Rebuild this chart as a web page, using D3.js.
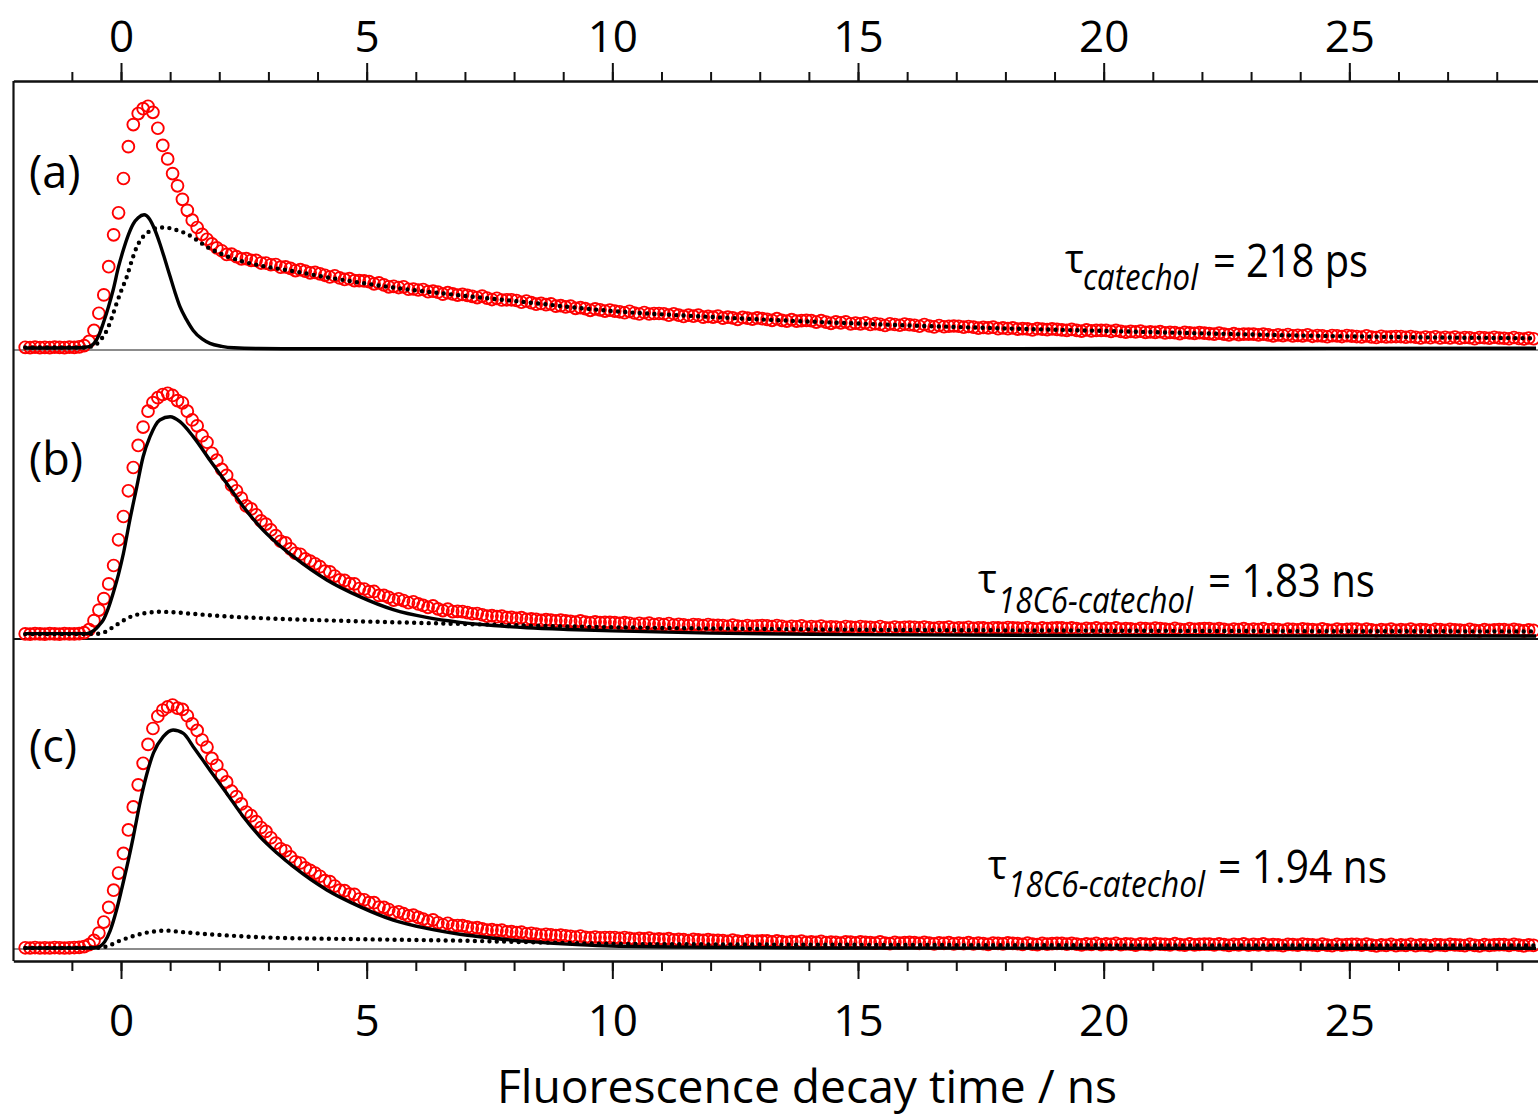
<!DOCTYPE html>
<html>
<head>
<meta charset="utf-8">
<script src="https://cdn.jsdelivr.net/npm/d3@7"></script>
<style>
  body { margin: 0; background: #fff; }
  svg { display: block; }
  text { font-family: "Open Sans", sans-serif; fill: #000; white-space: pre; }
</style>
</head>
<body>
<svg id="chart" width="1538" height="1116"></svg>
<script>
// TCSPC channel grid (ns)
const channelStart = -1.95;
const channelWidth = 0.1;

// Measured decays, normalised counts (per mille of peak)
const decayA = [11,10,12,10,11,10,12,11,10,12,11,13,
18,35,80,150,225,340,470,560,
700,830,920,965,985,995,970,905,835,780,
720,670,615,570,530,500,472,452,433,417,
405,390,391,381,372,373,366,366,355,355,
348,349,338,339,333,324,328,322,315,317,
311,305,298,303,294,288,291,283,283,282,
279,270,274,266,258,260,255,258,248,249,
245,247,238,240,236,228,234,229,224,227,
223,219,214,220,212,206,211,204,205,205,
202,195,200,193,187,190,185,188,179,181,
176,179,170,173,169,162,168,164,159,163,
159,156,152,158,151,147,153,147,149,149,
148,142,148,142,137,142,138,142,134,137,
134,138,130,134,131,125,133,130,126,131,
128,125,121,128,121,118,124,118,120,121,
120,114,120,114,109,115,111,115,107,110,
107,111,104,108,105,100,107,104,101,106,
103,101,97,104,98,94,100,95,97,98,
97,93,96,93,89,92,90,93,87,90,
87,90,85,87,86,82,87,85,83,86,
84,82,80,84,80,77,82,78,80,80,
80,76,80,76,73,76,74,77,72,74,
72,75,70,72,71,67,72,70,68,71,
69,67,65,69,65,62,67,63,65,65,
65,62,65,62,58,62,59,63,58,60,
58,62,56,59,58,54,59,58,55,59,
57,55,53,58,53,51,56,53,54,55,
55,52,55,52,49,53,50,54,49,52,
49,53,48,51,50,46,51,50,48,52,
49,48,46,51,47,45,49,46];

const decayB = [21,20,22,21,20,22,21,20,22,21,21,22,
26,38,75,118,165,225,300,405,
500,605,700,790,865,930,965,985,998,1003,
994,973,964,930,894,870,830,803,758,730,
692,668,628,605,575,543,531,507,482,469,
445,422,399,392,368,350,346,327,318,307,
295,277,274,257,241,239,226,225,206,204,
193,194,178,178,170,159,164,157,148,152,
143,137,129,135,123,116,122,112,113,112,
108,103,104,99,93,95,91,93,87,88,
84,87,80,82,80,76,79,77,74,77,
74,72,69,74,69,66,70,67,68,68,
67,64,67,64,60,64,61,65,59,62,59,63,57,60,58,55,59,58,55,59,56,
56,55,52,57,53,51,55,52,54,55,54,51,55,52,48,52,50,54,48,51,49,53,48,50,49,46,51,49,47,51,
49,48,46,51,46,44,49,46,48,49,48,45,49,46,43,47,45,49,43,46,44,48,43,46,45,42,46,45,43,47,
45,44,42,47,42,40,45,42,44,45,45,42,45,42,39,43,41,45,40,43,
41,45,40,42,41,38,43,42,40,44,42,40,38,43,39,37,42,39,41,42,42,39,42,39,36,40,38,42,37,40,
38,42,37,40,38,35,40,39,37,41,39,38,36,41,37,35,40,37,39,40,
40,36,40,37,34,38,36,40,35,38,36,40,35,38,37,34,39,38,35,39,37,36,34,39,35,33,38,35,37,38,
38,35,39,36,33,37,35];

const decayC = [5,4,6,4,5,4,6,5,4,5,6,7,
10,18,35,65,110,170,240,310,
390,486,580,670,758,835,900,950,975,988,
996,983,978,952,919,892,853,824,778,750,
710,682,644,622,592,559,544,520,496,480,
454,432,409,401,376,356,351,331,321,310,
297,279,275,257,240,238,224,223,204,201,
189,189,171,170,161,148,152,144,135,138,
129,122,113,119,107,99,105,95,96,95,
90,85,87,82,77,79,75,77,70,71,
67,69,62,64,61,57,60,58,55,57,
54,52,49,53,48,45,49,46,47,47,
47,43,47,43,40,43,41,44,39,41,39,42,37,39,38,34,39,37,35,38,35,
35,34,31,36,32,29,34,31,32,33,33,29,33,30,27,30,28,32,27,29,27,31,26,28,27,24,29,28,25,29,
27,26,24,29,24,22,27,24,26,27,26,23,27,24,21,25,23,26,21,24,22,26,21,24,22,19,24,23,21,25,
23,22,19,24,20,18,23,20,22,23,23,20,23,20,17,21,19,23,18,21,
19,23,18,21,20,16,21,20,18,22,20,19,17,22,18,16,21,17,19,20,20,17,21,18,15,19,17,21,16,19,
17,21,16,18,17,14,19,18,16,20,18,17,15,20,16,14,19,16,18,19,19,16,20,16,13,17,15,19,14,17,
15,19,14,17,16,13,18,17,15,19,17,16,14,19,15,13,18,15,17,18,18,15,19,16,13,17,15];

// Fitted components [time ns, counts per mille]: solid = fast component, dotted = slow component
const fastA = [[-1.95,8],[-0.85,9],[-0.65,14],[-0.55,27],[-0.45,60],[-0.36,110],[-0.25,180],[-0.16,245],[-0.05,340],[0.05,410],[0.15,470],[0.25,515],[0.35,540],[0.47,552],[0.58,535],[0.68,495],[0.79,435],[0.9,365],[1.0,300],[1.1,235],[1.2,177],[1.33,125],[1.47,80],[1.65,45],[1.81,27],[2.05,15],[2.3,9],[2.8,6],[4,5],[10,5],[20,6],[28.8,7]];
const slowA = [[-1.95,10],[-0.75,10],[-0.55,18],[-0.4,45],[-0.29,80],[-0.19,130],[-0.09,190],[0.02,250],[0.12,300],[0.22,365],[0.32,420],[0.42,455],[0.52,476],[0.63,490],[0.73,498],[0.85,500],[1.0,497],[1.15,488],[1.34,474],[1.55,448],[1.74,422],[1.95,400],[2.15,383],[2.5,360],[2.83,345],[3.5,322],[4.19,297],[5.5,256],[6.9,223],[8.3,194],[9.3,172],[10,159],[12,135],[15,108],[18,88],[20,78],[22,68],[24,59],[26,53],[28.8,48]];
const fastB = [[-1.95,22],[-0.7,22],[-0.55,35],[-0.45,55],[-0.36,78],[-0.26,125],[-0.16,187],[-0.05,265],[0.05,350],[0.18,486],[0.32,620],[0.45,744],[0.59,826],[0.79,894],[1.0,907],[1.2,887],[1.47,826],[1.81,730],[2.15,636],[2.49,540],[2.83,458],[3.17,392],[3.51,336],[4.19,241],[4.86,173],[5.54,120],[6.22,88],[6.9,68],[7.58,55],[8.26,46],[9.28,38],[10,33],[12,24],[15,18],[20,14],[28.8,12]];
const slowB = [[-1.95,20],[-0.5,21],[-0.38,25],[-0.29,32],[-0.19,45],[-0.09,58],[0.02,72],[0.12,84],[0.3,98],[0.5,106],[0.79,111],[1.0,110],[1.5,102],[2.15,92],[3,84],[4.19,76],[6.22,65],[8.94,52],[10,48],[12,43],[15,38],[20,34],[28.8,31]];
const fastC = [[-1.95,4],[-0.6,4],[-0.5,6],[-0.43,10],[-0.33,30],[-0.22,75],[-0.09,160],[0.02,250],[0.12,336],[0.25,458],[0.39,600],[0.52,710],[0.66,800],[0.86,867],[1.06,894],[1.27,880],[1.47,826],[1.81,730],[2.15,636],[2.49,540],[2.83,458],[3.17,393],[3.51,336],[4.19,241],[4.86,173],[5.54,118],[6.22,84],[6.9,60],[7.58,44],[8.26,31],[9.28,18],[10,12],[12,7],[15,4],[28.8,3]];
const slowC = [[-1.95,4],[-0.45,5],[-0.3,10],[-0.15,22],[0.0,36],[0.12,44],[0.3,56],[0.45,64],[0.7,72],[0.93,75],[1.2,70],[1.61,63],[2.2,55],[2.83,48],[4.86,40],[6.9,34],[8.94,25],[10,21],[12,19],[15,17],[20,15],[28.8,14]];

// Axis ticks and texts
const majorTicks = [0, 5, 10, 15, 20, 25];
const minorTicks = d3.range(-1, 29);
const panelLabels = ["(a)", "(b)", "(c)"];
const lifetimeSpecies = ["catechol", "18C6-catechol", "18C6-catechol"];
const lifetimeValues = ["= 218 ps", "= 1.83 ns", "= 1.94 ns"];
const axisTitle = "Fluorescence decay time / ns";

const svg = d3.select("#chart");
const x = d3.scaleLinear().domain([-2.19, 28.85]).range([13.4, 1538.5]);

const frameTop = 81, frameBottom = 961, frameLeft = 13.5, frameRight = 1538;

const panels = [
  { decay: decayA, fast: fastA, slow: slowA, base: 350, baseDark: false, labelY: 188,
    tau: { x: 1065, y: 277, subX: 1083, subW: 115, subY: 290, mainX: 1213, mainW: 155 } },
  { decay: decayB, fast: fastB, slow: slowB, base: 639, baseDark: true, labelY: 475,
    tau: { x: 978, y: 597, subX: 998, subW: 195, subY: 613, mainX: 1208, mainW: 167 } },
  { decay: decayC, fast: fastC, slow: slowC, base: 949, baseDark: false, labelY: 762,
    tau: { x: 988, y: 883, subX: 1008, subW: 197, subY: 897, mainX: 1218, mainW: 169 } }
];

// panel baselines
panels.forEach(p => {
  svg.append("line")
    .attr("x1", frameLeft).attr("x2", frameRight)
    .attr("y1", p.base).attr("y2", p.base)
    .attr("stroke", p.baseDark ? "#111" : "#666")
    .attr("stroke-width", p.baseDark ? 2.2 : 1.6);
});

panels.forEach((p, k) => {
  const y = d3.scaleLinear().domain([0, 1000]).range([p.base, p.base - 245]);
  const g = svg.append("g");
  const points = p.decay.map((v, i) => [channelStart + i * channelWidth, v]);

  g.append("g").selectAll("circle").data(points).join("circle")
    .attr("cx", d => x(d[0])).attr("cy", d => y(d[1])).attr("r", 5.9)
    .attr("fill", "none").attr("stroke", "#ff0000").attr("stroke-width", 1.9);

  const line = d3.line().x(d => x(d[0])).y(d => y(d[1])).curve(d3.curveMonotoneX);

  g.append("path").attr("d", line(p.fast))
    .attr("fill", "none").attr("stroke", "#000").attr("stroke-width", 3.4)
    .attr("stroke-linejoin", "round");

  g.append("path").attr("d", line(p.slow))
    .attr("fill", "none").attr("stroke", "#000").attr("stroke-width", 4.4)
    .attr("stroke-linecap", "round").attr("stroke-dasharray", "0 7.3");

  g.append("text").attr("x", 29).attr("y", p.labelY)
    .attr("font-size", 45).text(panelLabels[k]);

  const t = p.tau;
  g.append("text").attr("x", t.x).attr("y", t.y - 4).attr("font-size", 40).text("τ");
  g.append("text").attr("x", t.subX).attr("y", t.subY)
    .attr("font-size", 36).attr("font-style", "italic")
    .attr("textLength", t.subW).attr("lengthAdjust", "spacingAndGlyphs")
    .text(lifetimeSpecies[k]);
  g.append("text").attr("x", t.mainX).attr("y", t.y)
    .attr("font-size", 45)
    .attr("textLength", t.mainW).attr("lengthAdjust", "spacingAndGlyphs")
    .text(lifetimeValues[k]);
});

// frame: left edge
svg.append("line").attr("x1", frameLeft).attr("x2", frameLeft)
  .attr("y1", frameTop).attr("y2", frameBottom)
  .attr("stroke", "#111").attr("stroke-width", 2.2);

function styleAxis(sel) {
  sel.select(".domain").attr("stroke", "#111").attr("stroke-width", 2.2);
  sel.selectAll(".tick line").attr("stroke", "#111").attr("stroke-width", 2);
  sel.selectAll("text").attr("font-family", "\"Open Sans\", sans-serif")
    .attr("font-size", 44).attr("fill", "#000");
}

// top axis
const topMinor = svg.append("g").attr("transform", `translate(0,${frameTop})`)
  .call(d3.axisTop(x).tickValues(minorTicks).tickSize(9).tickSizeOuter(0).tickFormat(""));
styleAxis(topMinor);
const topMajor = svg.append("g").attr("transform", `translate(0,${frameTop})`)
  .call(d3.axisTop(x).tickValues(majorTicks).tickSize(18).tickSizeOuter(0).tickFormat(d3.format("d")));
styleAxis(topMajor);
topMajor.selectAll("text").attr("dy", null).attr("y", 52 - frameTop);

// bottom axis
const botMinor = svg.append("g").attr("transform", `translate(0,${frameBottom})`)
  .call(d3.axisBottom(x).tickValues(minorTicks).tickSize(10).tickSizeOuter(0).tickFormat(""));
styleAxis(botMinor);
const botMajor = svg.append("g").attr("transform", `translate(0,${frameBottom})`)
  .call(d3.axisBottom(x).tickValues(majorTicks).tickSize(18).tickSizeOuter(0).tickFormat(d3.format("d")));
styleAxis(botMajor);
botMajor.selectAll("text").attr("dy", null).attr("y", 1036 - frameBottom);

svg.append("text").attr("x", 807).attr("y", 1103)
  .attr("text-anchor", "middle").attr("font-size", 46)
  .attr("textLength", 620).attr("lengthAdjust", "spacingAndGlyphs")
  .text(axisTitle);
</script>
</body>
</html>
